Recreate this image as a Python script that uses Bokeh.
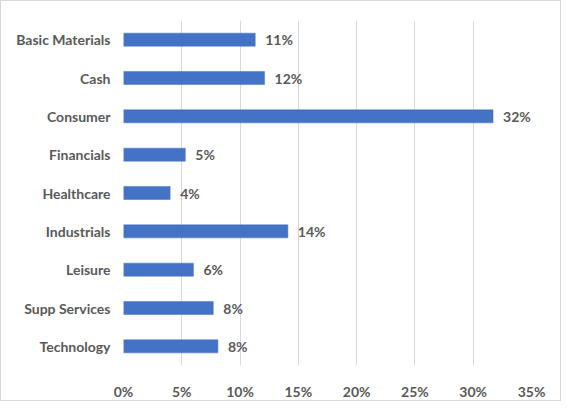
from bokeh.plotting import figure
from bokeh.models import FactorRange, Range1d, SingleIntervalTicker, PrintfTickFormatter, ColumnDataSource
from bokeh.core.properties import value
from bokeh.embed import file_html
from bokeh.resources import INLINE

categories = ["Basic Materials", "Cash", "Consumer", "Financials", "Healthcare",
              "Industrials", "Leisure", "Supp Services", "Technology"]
weights = [11.3, 12.1, 31.7, 5.3, 4.0, 14.1, 6.0, 7.7, 8.1]
labels = [f"{round(w)}%" for w in weights]

FONT = "Lato"
GRAY = "#595959"
BLUE = "#4472C4"

src = ColumnDataSource(dict(cat=categories, w=weights, lab=labels))

p = figure(width=561, height=401, output_backend="svg", toolbar_location=None,
           y_range=FactorRange(factors=list(reversed(categories)), range_padding=0),
           x_range=Range1d(0, 35))
p.min_border_left = 122
p.min_border_right = 31
p.min_border_top = 19
p.min_border_bottom = 26
p.styles = {"border": "1px solid #d9d9d9", "box-sizing": "border-box"}

p.hbar(y="cat", right="w", left=0, height=0.34, source=src, fill_color=BLUE, line_color=BLUE, line_width=0.5)
p.text(x="w", y="cat", text="lab", source=src, x_offset=10, text_baseline="middle", text_align="left",
       text_font=value(FONT), text_font_style="bold", text_font_size="14px", text_color=GRAY)

p.outline_line_color = None
p.background_fill_color = "white"
p.border_fill_color = "white"

p.xaxis.ticker = SingleIntervalTicker(interval=5)
p.xaxis.formatter = PrintfTickFormatter(format="%d%%")
p.xgrid.ticker = SingleIntervalTicker(interval=5)
p.xgrid.grid_line_color = "#d9d9d9"
p.xgrid.grid_line_width = 1
p.ygrid.grid_line_color = None

for ax in (p.xaxis[0], p.yaxis[0]):
    ax.axis_line_color = None
    ax.major_tick_line_color = None
    ax.minor_tick_line_color = None
    ax.major_tick_out = 0
    ax.major_tick_in = 0
    ax.major_label_text_font = FONT
    ax.major_label_text_font_style = "bold"
    ax.major_label_text_font_size = "14px"
    ax.major_label_text_color = GRAY
p.xaxis.major_label_standoff = 13
p.yaxis.major_label_standoff = 13

open("out.html", "w").write(file_html(p, INLINE))
